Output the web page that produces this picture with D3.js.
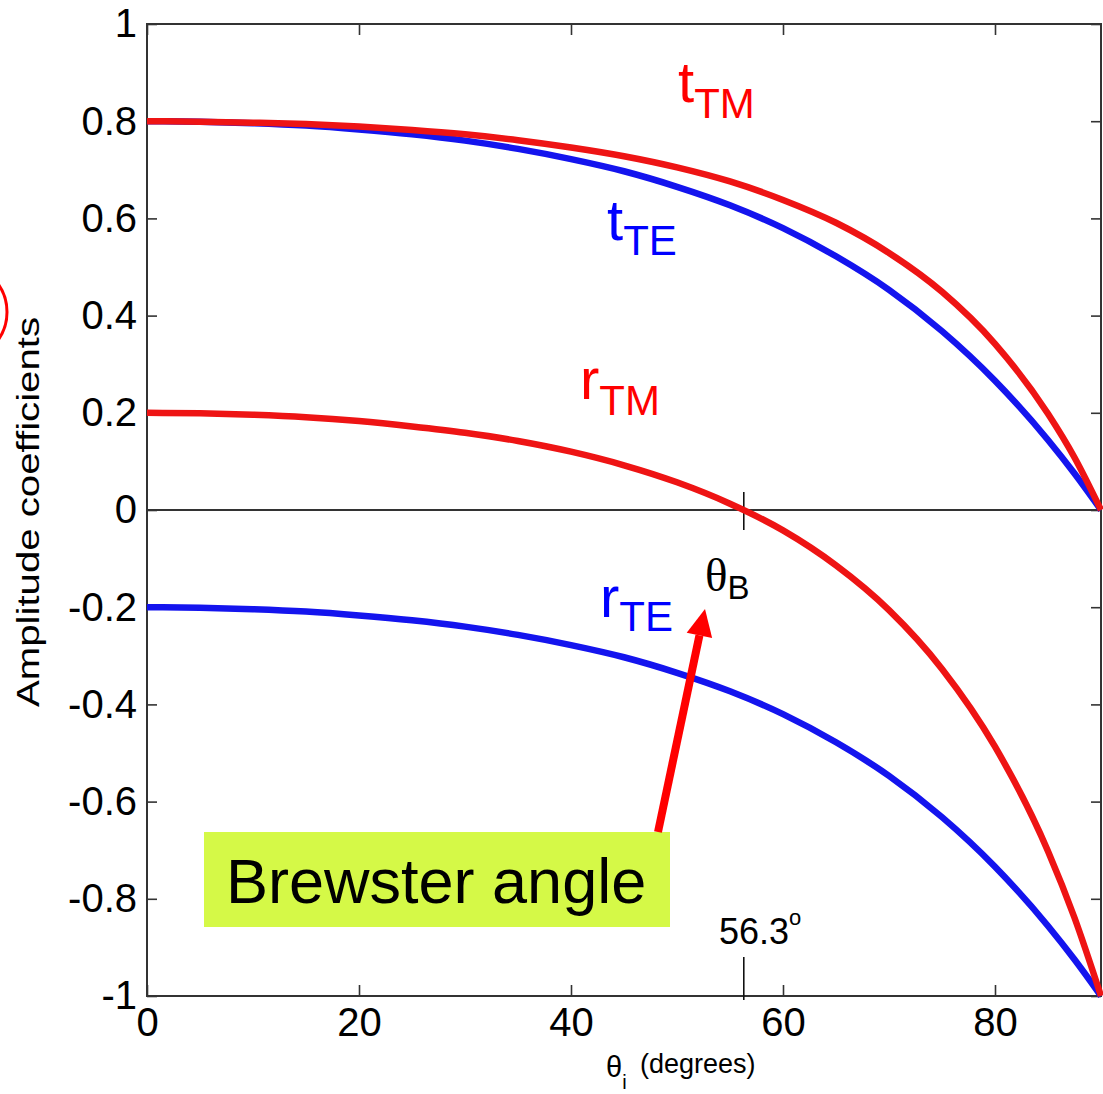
<!DOCTYPE html>
<html>
<head>
<meta charset="utf-8">
<script src="https://cdn.jsdelivr.net/npm/d3@7"></script>
<style>
  body { margin: 0; background: #fff; }
  svg { display: block; font-family: Arial, "Liberation Sans", sans-serif; }
</style>
</head>
<body>
<div class="chart"></div>
<script>
// incidence angle (degrees) and Fresnel amplitude coefficients
const angles = [0, 5, 10, 15, 20, 25, 30, 35, 40, 45, 50, 55, 60, 65, 70, 75, 80, 85, 87.5, 90];
const tTM = [0.800, 0.799, 0.797, 0.794, 0.789, 0.782, 0.773, 0.761, 0.746, 0.728, 0.705, 0.676, 0.638, 0.591, 0.529, 0.449, 0.342, 0.198, 0.108, 0];
const tTE = [0.800, 0.799, 0.796, 0.791, 0.783, 0.773, 0.760, 0.743, 0.722, 0.697, 0.665, 0.627, 0.580, 0.522, 0.453, 0.368, 0.266, 0.144, 0.075, 0];
const rTM = [0.200, 0.199, 0.196, 0.191, 0.183, 0.172, 0.159, 0.142, 0.120, 0.092, 0.057, 0.013, -0.042, -0.114, -0.206, -0.327, -0.487, -0.702, -0.839, -1];
const rTE = [-0.200, -0.201, -0.204, -0.209, -0.217, -0.227, -0.240, -0.257, -0.278, -0.303, -0.335, -0.373, -0.420, -0.478, -0.547, -0.632, -0.734, -0.856, -0.925, -1];

const xTicks = [0, 20, 40, 60, 80];
const yTicks = [1, 0.8, 0.6, 0.4, 0.2, 0, -0.2, -0.4, -0.6, -0.8, -1];
const brewster = 56.3;

const W = 1103, H = 1094;
const plotLeft = 147, plotRight = 1101, plotTop = 24, plotBottom = 996;

const svg = d3.select('.chart').append('svg')
    .attr('width', W)
    .attr('height', H);

svg.append('rect').attr('width', W).attr('height', H).attr('fill', '#fff');

const x = d3.scaleLinear().domain([0, 90]).range([plotLeft, plotRight]);
const y = d3.scaleLinear().domain([-1, 1]).range([plotBottom, plotTop]);

const axisColor = '#333';
const fmt = d => String(d);

// bottom axis, ticks pointing in
svg.append('g')
    .attr('transform', `translate(0,${plotBottom})`)
    .call(d3.axisBottom(x).tickValues(xTicks).tickFormat(fmt)
        .tickSizeInner(-11).tickSizeOuter(0).tickPadding(12));

// left axis
svg.append('g')
    .attr('transform', `translate(${plotLeft},0)`)
    .call(d3.axisLeft(y).tickValues(yTicks).tickFormat(fmt)
        .tickSizeInner(-10).tickSizeOuter(0).tickPadding(10));

// mirrored ticks on top and right, no labels
svg.append('g')
    .attr('transform', `translate(0,${plotTop})`)
    .call(d3.axisTop(x).tickValues(xTicks).tickFormat('')
        .tickSizeInner(-11).tickSizeOuter(0));
svg.append('g')
    .attr('transform', `translate(${plotRight},0)`)
    .call(d3.axisRight(y).tickValues(yTicks).tickFormat('')
        .tickSizeInner(-10).tickSizeOuter(0));

svg.selectAll('.domain').remove();
svg.selectAll('.tick line').attr('stroke', axisColor).attr('stroke-width', 1.6);
svg.selectAll('.tick text')
    .attr('fill', '#000')
    .style('font-size', '40px')
    .style('font-family', 'Arial, "Liberation Sans", sans-serif');

// box
svg.append('rect')
    .attr('x', plotLeft).attr('y', plotTop)
    .attr('width', plotRight - plotLeft).attr('height', plotBottom - plotTop)
    .attr('fill', 'none')
    .attr('stroke', axisColor)
    .attr('stroke-width', 2);

// zero line
svg.append('line')
    .attr('x1', x(0)).attr('x2', x(90))
    .attr('y1', y(0)).attr('y2', y(0))
    .attr('stroke', axisColor)
    .attr('stroke-width', 2);

// Brewster angle marks
svg.append('line')
    .attr('x1', x(brewster)).attr('x2', x(brewster))
    .attr('y1', y(0) - 18).attr('y2', y(0) + 20)
    .attr('stroke', '#111').attr('stroke-width', 1.6);
svg.append('line')
    .attr('x1', x(brewster)).attr('x2', x(brewster))
    .attr('y1', plotBottom - 39).attr('y2', plotBottom + 4)
    .attr('stroke', '#111').attr('stroke-width', 1.6);

// curves
const line = (vals) => d3.line()
    .x((d, i) => x(angles[i]))
    .y(d => y(d))
    .curve(d3.curveMonotoneX)(vals);

const series = [
    { vals: rTE, color: '#1414ee' },
    { vals: tTE, color: '#1414ee' },
    { vals: rTM, color: '#ee1414' },
    { vals: tTM, color: '#ee1414' }
];
series.forEach(s => {
    svg.append('path')
        .attr('d', line(s.vals))
        .attr('fill', 'none')
        .attr('stroke', s.color)
        .attr('stroke-width', 6.5)
        .attr('stroke-linejoin', 'round');
});

// curve labels: big letter + subscript
function subLabel(px, py, main, sub, color, dy) {
    const t = svg.append('text')
        .attr('x', px).attr('y', py)
        .attr('fill', color)
        .style('font-size', '58px')
        .text(main);
    t.append('tspan')
        .attr('dy', dy)
        .style('font-size', '42px')
        .text(sub);
}
subLabel(678, 102, 't', 'TM', '#f00', 16);
subLabel(607, 240, 't', 'TE', '#00f', 15);
subLabel(580, 399, 'r', 'TM', '#f00', 16);
subLabel(600, 617, 'r', 'TE', '#00f', 14);

// theta_B
svg.append('text')
    .attr('x', 705).attr('y', 591)
    .style('font-family', '"Liberation Serif", "Times New Roman", serif')
    .style('font-size', '47px')
    .text('θ')
    .append('tspan')
    .style('font-family', 'Arial, "Liberation Sans", sans-serif')
    .style('font-size', '33px')
    .attr('dy', 8)
    .text('B');

// 56.3 degrees
svg.append('text')
    .attr('x', 719).attr('y', 944)
    .style('font-size', '36px')
    .text('56.3')
    .append('tspan')
    .style('font-size', '22px')
    .attr('dy', -19)
    .text('o');

// Brewster angle box + arrow
svg.append('rect')
    .attr('x', 204).attr('y', 832)
    .attr('width', 466).attr('height', 95)
    .attr('fill', '#d5f947');
svg.append('text')
    .attr('x', 226).attr('y', 903)
    .style('font-size', '63px')
    .attr('fill', '#000')
    .text('Brewster angle');

const tip = [705, 609], base = [658, 832];
const ang = Math.atan2(tip[1] - base[1], tip[0] - base[0]);
const headLen = 27, headHalf = 13;
const hb = [tip[0] - headLen * Math.cos(ang), tip[1] - headLen * Math.sin(ang)];
svg.append('line')
    .attr('x1', base[0]).attr('y1', base[1])
    .attr('x2', hb[0]).attr('y2', hb[1])
    .attr('stroke', '#f00').attr('stroke-width', 8);
svg.append('path')
    .attr('d', `M${tip[0]},${tip[1]}` +
        `L${hb[0] + headHalf * Math.sin(ang)},${hb[1] - headHalf * Math.cos(ang)}` +
        `L${hb[0] - headHalf * Math.sin(ang)},${hb[1] + headHalf * Math.cos(ang)}Z`)
    .attr('fill', '#f00');

// axis titles
svg.append('text')
    .attr('transform', 'translate(39,512) rotate(-90)')
    .attr('text-anchor', 'middle')
    .attr('textLength', 390)
    .attr('lengthAdjust', 'spacingAndGlyphs')
    .style('font-size', '31px')
    .text('Amplitude coefficients');

const xl = svg.append('text')
    .attr('x', 606).attr('y', 1077)
    .style('font-size', '29px');
xl.append('tspan').text('θ');
xl.append('tspan').attr('dy', 12).style('font-size', '20px').text('i');
xl.append('tspan').attr('x', 640).attr('y', 1073).style('font-size', '27px').text('(degrees)');

// red circle fragment at the left edge
svg.append('circle')
    .attr('cx', -41).attr('cy', 312).attr('r', 48)
    .attr('fill', 'none')
    .attr('stroke', '#f00')
    .attr('stroke-width', 3);
</script>
</body>
</html>
